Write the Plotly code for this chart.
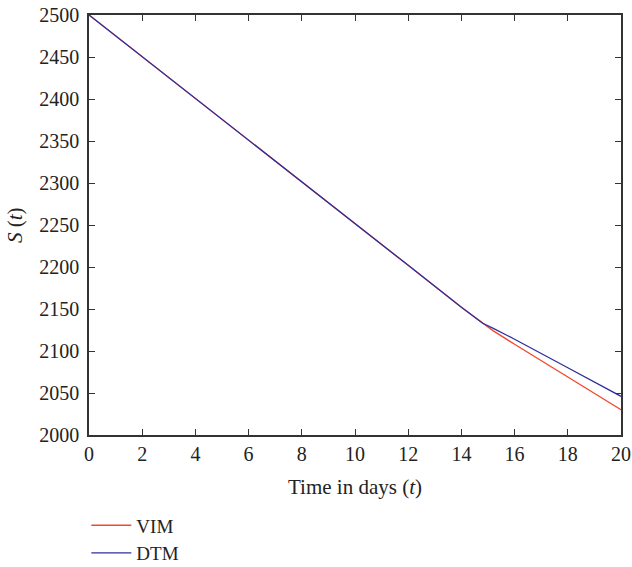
import plotly.graph_objects as go

t_vals = [0, 2, 4, 6, 8, 10, 12, 14, 14.8, 15.2, 16, 18, 20]
vim_vals = [2500, 2450.5, 2401, 2351, 2301.5, 2251.5, 2202, 2152, 2133, 2124, 2108, 2069, 2030]
dtm_vals = [2500, 2450.5, 2401, 2351, 2301.5, 2251.5, 2202, 2152, 2133, 2127, 2114, 2080, 2046]

x_ticks = list(range(0, 21, 2))
y_ticks = list(range(2000, 2501, 50))

font_family = "Liberation Serif, serif"
axis_color = "#333333"
txt = "#222222"

fig = go.Figure()
fig.add_trace(go.Scatter(x=t_vals, y=vim_vals, mode="lines", name="VIM",
                         line=dict(color="#F2492B", width=1.3)))
fig.add_trace(go.Scatter(x=t_vals, y=dtm_vals, mode="lines", name="DTM",
                         line=dict(color="#2E2E9E", width=1.3)))

axis_common = dict(showgrid=False, zeroline=False, showline=True, mirror="ticks",
                   linecolor=axis_color, linewidth=1.5, ticks="inside", ticklen=6,
                   tickwidth=1.2, tickcolor=axis_color, automargin=False,
                   tickfont=dict(family=font_family, size=20, color=txt))

fig.update_xaxes(range=[0, 20], tickvals=x_ticks, **axis_common)
fig.update_yaxes(range=[2000, 2500], tickvals=y_ticks, ticklabelstandoff=4,
                 **axis_common)

fig.add_annotation(text="Time in days (<i>t</i>)", xref="paper", yref="paper",
                   x=0.5, y=-0.124, xanchor="center", yanchor="middle",
                   showarrow=False, font=dict(family=font_family, size=21, color=txt))
fig.add_annotation(text="<i>S</i> (<i>t</i>)", xref="paper", yref="paper",
                   x=-(89 - 15) / 532, y=0.5, xanchor="center", yanchor="middle",
                   textangle=-90, showarrow=False,
                   font=dict(family=font_family, size=21, color=txt))

fig.update_layout(
    width=632, height=567,
    margin=dict(l=89, r=11, t=15, b=132, autoexpand=False),
    plot_bgcolor="white", paper_bgcolor="white",
    font=dict(family=font_family, size=20, color=txt),
    legend=dict(x=-0.005, y=-0.17, xanchor="left", yanchor="top",
                orientation="v", font=dict(family=font_family, size=19, color=txt),
                itemwidth=40, tracegroupgap=0, bgcolor="rgba(0,0,0,0)"),
)

fig.write_html("out.html")
